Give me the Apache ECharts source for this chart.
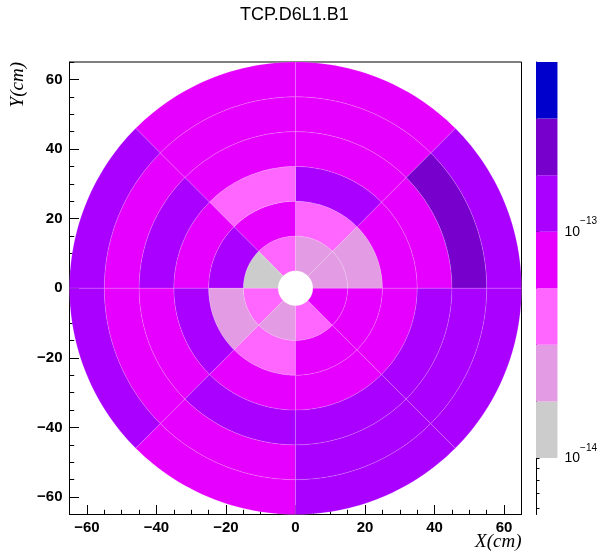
<!DOCTYPE html>
<html><head><meta charset="utf-8">
<script src="https://cdn.jsdelivr.net/npm/echarts@6/dist/echarts.min.js"></script>
<style>html,body{margin:0;padding:0;background:#fff}#c{width:600px;height:552px}</style>
</head><body><div id="c"></div>
<script>
const chartTitle = 'TCP.D6L1.B1';
const xAxisTitle = 'X(cm)';
const yAxisTitle = 'Y(cm)';
// geometry of the bins (cm, degrees counter-clockwise from +X)
const ringEdges = [5, 15, 25, 35, 45, 55, 65];
const sectorEdges = [0, 45, 90, 135, 180, 225, 270, 315, 360];
// bin contents, one array per ring (inner -> outer), one value per sector
const ring1 = [2.3e-14, 2.5e-14, 4.1e-14, 1.4e-14, 4.4e-14, 2.2e-14, 4.0e-14, 7.2e-14];
const ring2 = [2.6e-14, 4.3e-14, 7.4e-14, 1.25e-13, 2.4e-14, 4.2e-14, 7.8e-14, 7.0e-14];
const ring3 = [7.6e-14, 1.3e-13, 4.5e-14, 7.3e-14, 1.35e-13, 7.1e-14, 8.0e-14, 7.7e-14];
const ring4 = [8.2e-14, 7.9e-14, 7.5e-14, 1.28e-13, 7.6e-14, 1.32e-13, 1.3e-13, 1.26e-13];
const ring5 = [2.4e-13, 8.3e-14, 8.1e-14, 7.8e-14, 7.4e-14, 7.9e-14, 1.27e-13, 1.24e-13];
const ring6 = [1.3e-13, 7.7e-14, 7.9e-14, 1.29e-13, 1.33e-13, 7.5e-14, 1.31e-13, 1.22e-13];
// colour levels (contours) and palette
const levels = [1.0e-14, 1.778e-14, 3.162e-14, 5.623e-14, 1.0e-13, 1.778e-13, 3.162e-13, 5.623e-13];
const palette = ['#cccccc', '#e39be3', '#ff66ff', '#e600ff', '#aa00ff', '#7700cc', '#0000cc'];
const zRange = [5.623e-15, 5.623e-13];
const zTicks = [6e-15, 7e-15, 8e-15, 9e-15, 1e-14, 2e-14, 3e-14, 4e-14, 5e-14, 6e-14, 7e-14, 8e-14, 9e-14, 1e-13, 2e-13, 3e-13, 4e-13, 5e-13];
const zLabels = [1e-14, 1e-13];
// axis ticks
const xyRange = [-65, 65];
const majorTicks = [-60, -40, -20, 0, 20, 40, 60];

const rings = [ring1, ring2, ring3, ring4, ring5, ring6];
const cells = [];
rings.forEach((vals, ri) => {
  vals.forEach((v, si) => {
    cells.push([ringEdges[ri], ringEdges[ri + 1], sectorEdges[si], sectorEdges[si + 1], v]);
  });
});
const bands = [];
for (let i = 0; i < palette.length; i++) {
  bands.push([Math.log10(levels[i]), Math.log10(levels[i + 1]), i]);
}
const pieces = palette.map((c, i) => ({ gte: levels[i], lt: levels[i + 1], color: c }));

const minus = v => (v < 0 ? '\u2212' + Math.abs(v) : String(v));
const labelStyle = { color: '#000', fontSize: 15, fontFamily: 'Liberation Sans', fontWeight: 'bold' };
const titleFont = { fontFamily: 'Liberation Serif', fontStyle: 'italic', fontSize: 19, color: '#000', fontWeight: 'normal' };

const chart = echarts.init(document.getElementById('c'), null, { renderer: 'canvas' });
chart.setOption({
  animation: false,
  backgroundColor: '#fff',
  title: {
    text: chartTitle, left: 240, top: 6, padding: 0,
    textStyle: { fontFamily: 'Liberation Sans', fontSize: 18, fontWeight: 'normal', color: '#000' }
  },
  grid: [
    { left: 69.5, top: 62, width: 452, height: 452.5, show: true, borderColor: '#000', borderWidth: 1, backgroundColor: 'transparent', containLabel: false },
    { left: 536, top: 62, width: 29, height: 452.5, containLabel: false }
  ],
  xAxis: [
    {
      gridIndex: 0, type: 'value', min: xyRange[0], max: xyRange[1], interval: 5, position: 'bottom',
      axisLine: { show: true, onZero: false, lineStyle: { color: '#000', width: 1 } },
      axisTick: { show: true, inside: true, length: 4.7, lineStyle: { color: '#000' } },
      axisLabel: Object.assign({ customValues: majorTicks, formatter: minus, margin: 6 }, labelStyle),
      splitLine: { show: false },
      name: xAxisTitle, nameLocation: 'end', nameGap: 0, nameMoveOverlap: false,
      nameTextStyle: Object.assign({ align: 'right', verticalAlign: 'top', padding: [18, 0, 0, 0] }, titleFont)
    },
    {
      gridIndex: 0, type: 'value', min: xyRange[0], max: xyRange[1], position: 'bottom', offset: 0,
      axisLine: { show: false, onZero: false },
      axisTick: { show: true, inside: true, length: 9.5, customValues: majorTicks, lineStyle: { color: '#000' } },
      axisLabel: { show: false }, splitLine: { show: false }
    },
    { gridIndex: 1, type: 'value', min: 0, max: 1, show: false }
  ],
  yAxis: [
    {
      gridIndex: 0, type: 'value', min: xyRange[0], max: xyRange[1], interval: 5, position: 'left',
      axisLine: { show: true, onZero: false, lineStyle: { color: '#000', width: 1 } },
      axisTick: { show: true, inside: true, length: 4.7, lineStyle: { color: '#000' } },
      axisLabel: Object.assign({ customValues: majorTicks, formatter: minus, margin: 7 }, labelStyle),
      splitLine: { show: false },
      name: yAxisTitle, nameLocation: 'end', nameGap: 0, nameRotate: 90, nameMoveOverlap: false,
      nameTextStyle: Object.assign({ align: 'right', verticalAlign: 'bottom', padding: [0, 0, 42, 0] }, titleFont)
    },
    {
      gridIndex: 0, type: 'value', min: xyRange[0], max: xyRange[1], position: 'left', offset: 0,
      axisLine: { show: false, onZero: false },
      axisTick: { show: true, inside: true, length: 9.5, customValues: majorTicks, lineStyle: { color: '#000' } },
      axisLabel: { show: false }, splitLine: { show: false }
    },
    {
      gridIndex: 1, type: 'value', min: Math.log10(zRange[0]), max: Math.log10(zRange[1]), position: 'right',
      axisLine: { show: true, lineStyle: { color: '#000', width: 1 } },
      axisTick: { show: true, inside: false, length: 3.5, customValues: zTicks.map(Math.log10), lineStyle: { color: '#000' } },
      axisLabel: {
        customValues: zLabels.map(Math.log10), margin: 4, color: '#000',
        formatter: v => '{b|10}{s|\u2212' + Math.abs(Math.round(v)) + '}',
        rich: {
          b: { fontFamily: 'Liberation Sans', fontSize: 14, color: '#000', lineHeight: 30, padding: [0, 0, 0, 3] },
          s: { fontFamily: 'Liberation Sans', fontSize: 10, color: '#000', verticalAlign: 'top', lineHeight: 12 }
        }
      },
      splitLine: { show: false }
    }
  ],
  visualMap: {
    type: 'piecewise', show: false, dimension: 4, seriesIndex: 0, pieces: pieces
  },
  series: [
    {
      type: 'custom', xAxisIndex: 0, yAxisIndex: 0, data: cells, clip: false,
      renderItem: function (params, api) {
        const r0 = api.value(0), r1 = api.value(1), a0 = api.value(2), a1 = api.value(3);
        const n = 30, pts = [];
        for (let k = 0; k <= n; k++) {
          const a = (a0 + (a1 - a0) * k / n) * Math.PI / 180;
          pts.push(api.coord([r1 * Math.cos(a), r1 * Math.sin(a)]));
        }
        for (let k = n; k >= 0; k--) {
          const a = (a0 + (a1 - a0) * k / n) * Math.PI / 180;
          pts.push(api.coord([r0 * Math.cos(a), r0 * Math.sin(a)]));
        }
        return {
          type: 'polygon', shape: { points: pts },
          style: { fill: api.visual('color'), stroke: 'rgba(255,255,255,0.25)', lineWidth: 0.6 }
        };
      }
    },
    {
      type: 'custom', xAxisIndex: 2, yAxisIndex: 2, data: bands, clip: false,
      renderItem: function (params, api) {
        const p0 = api.coord([0, api.value(0)]);
        const p1 = api.coord([1, api.value(1)]);
        return {
          type: 'rect',
          shape: { x: p0[0], y: p1[1], width: p1[0] - p0[0], height: p0[1] - p1[1] },
          style: { fill: palette[api.value(2)] }
        };
      }
    }
  ]
});
</script>
</body></html>
